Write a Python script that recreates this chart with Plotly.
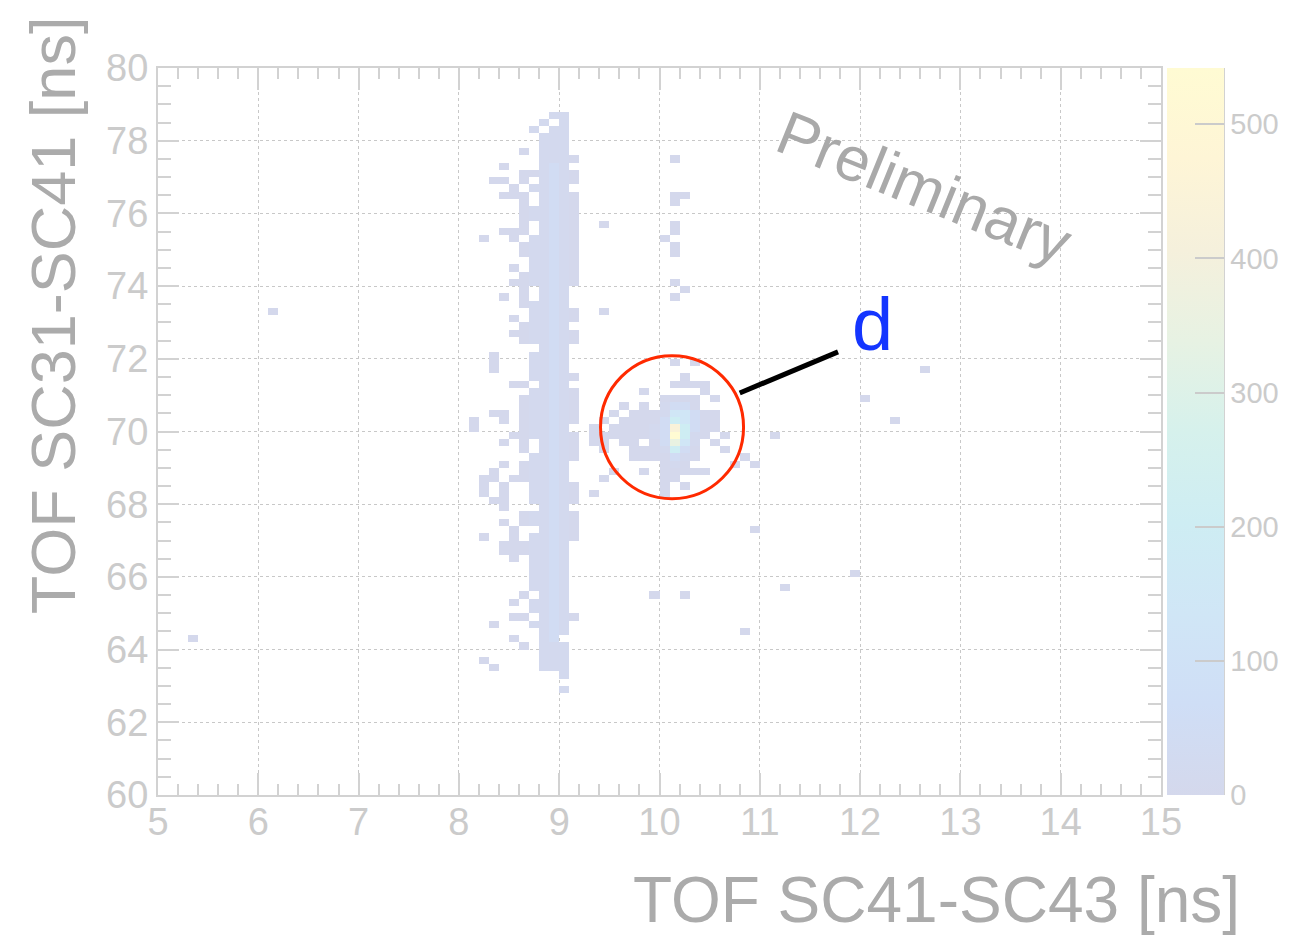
import numpy as np
import plotly.graph_objects as go

# Histogram binning: 100 x 100 bins over [5, 15] x [60, 80] ns
X_MIN, X_MAX, NX = 5.0, 15.0, 100
Y_MIN, Y_MAX, NY = 60.0, 80.0, 100
DX = (X_MAX - X_MIN) / NX
DY = (Y_MAX - Y_MIN) / NY

# Count per bin for each character of the row maps
LEVELS = {".": 0, "1": 3, "2": 15, "3": 45, "4": 90, "5": 140,
          "6": 200, "7": 270, "8": 350, "9": 440, "P": 542}

# Vertical band near 9 ns: one string per 0.2 ns row (top row centred at 78.7 ns),
# one character per 0.1 ns column (first column centred at 8.05 ns)
band_top = 78.7
band_x0 = 8.05
band_rows = [
    ".........22.", "........2.2.", ".......2.22.", "........222.",
    "........222.", "......1.222.", "........2221", "....1...232.",
    "......112321", "...11.1.2321", ".....1.2232.", "....111.2321",
    "......1.2321", "......122321", "......122321", "......1.2321",
    "....111.2321", "..1..1.22321", "......122321", "......122321",
    ".......22321", ".....1.22321", "......122321", ".....1122321",
    "......1.232.", "....1.1.232.", "......12232.", ".......22321",
    ".....1.22321", "......12232.", ".....1122321", "......122321",
    "........232.", "...1...2232.", "...1...2232.", "...1...2232.",
    ".......22321", ".....11.232.", ".......22321", "......122321",
    "......122321", "...11.122321", ".1..1.122321", ".1....12232.",
    ".....1122321", "....1.1.2321", "......1.2321", ".......22321",
    "....1.12232.", "...1..12232.", "..11.112232.", "..1.1..22321",
    "..1.1..22321", "...11..22321", "....1...232.", "......122321",
    "....1.122321", ".....1..2321", "..1..1.22321", "....1112232.",
    "....1112232.", ".....1.2232.", ".......2232.", ".......2232.",
    ".......2232.", ".......2232.", "......1.232.", ".....1.2232.",
    ".......2232.", ".....11.2321", "...1...2232.", "........232.",
    ".....1..23..", "......1.222.", "........222.", "..1.....222.",
    "...1....222.", "..........2.", "............", "..........2.",
]

# Cluster near 10.1 ns / 70 ns (top row centred at 71.9 ns, first column at 9.35 ns)
cluster_top = 71.9
cluster_x0 = 9.35
cluster_rows = [
    "........1.1",
    "",
    ".........1",
    "........1111",
    ".....1.....1",
    ".......1111.1",
    "...1.1.2331",
    "..1.111255311",
    ".1.1111365311",
    "1.11112396311",
    "11111123P621.1",
    "11.11.13852.1",
    ".1..1112631..1",
    "....1111321....1",
    ".......121....1.1",
    "..1..1.11111",
    ".1.....11",
    ".......1.1",
    "1......1",
]

# Isolated entries (bin centres, counts)
stray_x = [5.35, 6.15, 9.45, 9.45, 10.15, 10.15, 10.25, 10.15, 10.15, 10.15,
           10.05, 10.15, 10.15, 10.15, 10.25, 10.15, 12.05, 12.65, 12.35, 11.15,
           10.95, 11.25, 11.95, 10.85, 9.95, 10.25]
stray_y = [64.3, 73.3, 75.7, 73.3, 77.5, 76.5, 76.5, 76.3, 75.7, 75.5,
           75.3, 75.1, 74.9, 74.1, 73.9, 73.7, 70.9, 71.7, 70.3, 69.9,
           67.3, 65.7, 66.1, 64.5, 65.5, 65.5]
stray_n = [3] * len(stray_x)

# Palette and colour-bar ticks
palette = [
    [0.000, "#D4D8EC"], [0.125, "#CFDEF6"], [0.250, "#D0E6F6"],
    [0.375, "#CEEDF3"], [0.500, "#D6F1EC"], [0.625, "#E7F2E3"],
    [0.750, "#F5F0DC"], [0.875, "#FEF5D6"], [1.000, "#FFFBD3"],
]
z_max = 542
cbar_ticks = [0, 100, 200, 300, 400, 500]

x_centres = X_MIN + DX * (np.arange(NX) + 0.5)
y_centres = Y_MIN + DY * (np.arange(NY) + 0.5)
counts = np.zeros((NY, NX))


def x_bin(x):
    return int(np.floor((x - X_MIN) / DX + 1e-6))


def y_bin(y):
    return int(np.floor((y - Y_MIN) / DY + 1e-6))


def fill_rows(rows, x0, ytop):
    for i, row in enumerate(rows):
        iy = y_bin(ytop - DY * i)
        for j, ch in enumerate(row):
            n = LEVELS[ch]
            if n:
                counts[iy, x_bin(x0 + DX * j)] += n


fill_rows(band_rows, band_x0, band_top)
fill_rows(cluster_rows, cluster_x0, cluster_top)
for x, y, n in zip(stray_x, stray_y, stray_n):
    counts[y_bin(y), x_bin(x)] += n

z = np.where(counts > 0, counts, np.nan)

FONT = "Liberation Sans"
TICK_GREY = "#CBCBCB"
TITLE_GREY = "#ABABAB"
LINE_GREY = "#D2D2D2"

fig = go.Figure(go.Heatmap(
    x=x_centres, y=y_centres, z=z,
    zmin=0, zmax=z_max, colorscale=palette,
    hoverinfo="skip",
    colorbar=dict(
        x=1.006, xanchor="left", xpad=0, ypad=0,
        y=0.5, yanchor="middle", len=1, lenmode="fraction",
        thickness=57, thicknessmode="pixels", outlinewidth=0,
        tickmode="array", tickvals=cbar_ticks,
        ticks="inside", ticklen=29, tickwidth=2, tickcolor=TICK_GREY,
        tickfont=dict(family=FONT, size=29, color=TICK_GREY),
    ),
))

axis_common = dict(
    showline=True, linecolor=LINE_GREY, linewidth=2, mirror="allticks",
    ticks="inside", tickcolor=LINE_GREY, tickwidth=2,
    showgrid=True, gridcolor="#C8C8C8", griddash="dot", gridwidth=1,
    zeroline=False,
    tickfont=dict(family=FONT, size=38, color=TICK_GREY),
)

fig.update_xaxes(
    range=[X_MIN, X_MAX], dtick=1, tick0=5, ticklen=22,
    ticklabelstandoff=-8,
    minor=dict(dtick=0.2, ticklen=11, ticks="inside", tickcolor=LINE_GREY,
               tickwidth=2, showgrid=False),
    **axis_common,
)
fig.update_yaxes(
    range=[Y_MIN, Y_MAX], dtick=2, tick0=60, ticklen=21,
    minor=dict(dtick=0.5, ticklen=13, ticks="inside", tickcolor=LINE_GREY,
               tickwidth=2, showgrid=False),
    **axis_common,
)

# Palette axis line along the right edge of the colour bar
fig.add_shape(type="line", xref="paper", yref="paper",
              x0=1.0628, x1=1.0628, y0=0, y1=1,
              line=dict(color=LINE_GREY, width=2))

# Marker circle around the deuteron cluster and its pointer line
fig.add_shape(type="circle", xref="x", yref="y",
              x0=10.125 - 0.713, x1=10.125 + 0.713,
              y0=70.12 - 1.967, y1=70.12 + 1.967,
              line=dict(color="#FF2A00", width=3))
fig.add_shape(type="line", xref="x", yref="y",
              x0=10.80, y0=71.06, x1=11.78, y1=72.19,
              line=dict(color="black", width=5))

fig.add_annotation(x=12.12, y=72.95, xref="x", yref="y", text="d",
                   showarrow=False,
                   font=dict(family=FONT, size=74, color="#1435FF"))
fig.add_annotation(x=12.64, y=76.70, xref="x", yref="y", text="Preliminary",
                   showarrow=False, textangle=22,
                   font=dict(family=FONT, size=62, color="#A9A9A9"))

# Axis titles
fig.add_annotation(x=1.0808, y=-0.1444, xref="paper", yref="paper",
                   xanchor="right", yanchor="middle", showarrow=False,
                   text="TOF SC41-SC43 [ns]",
                   font=dict(family=FONT, size=64, color=TITLE_GREY))
fig.add_annotation(x=-0.1047, y=0.660, xref="paper", yref="paper",
                   xanchor="center", yanchor="middle", showarrow=False,
                   textangle=-90, text="TOF SC31-SC41 [ns]",
                   font=dict(family=FONT, size=63, color=TITLE_GREY))

fig.update_layout(
    width=1300, height=937,
    margin=dict(l=158, r=139, t=68, b=142, autoexpand=False),
    paper_bgcolor="white", plot_bgcolor="white",
    showlegend=False,
)

fig.write_html("out.html")
